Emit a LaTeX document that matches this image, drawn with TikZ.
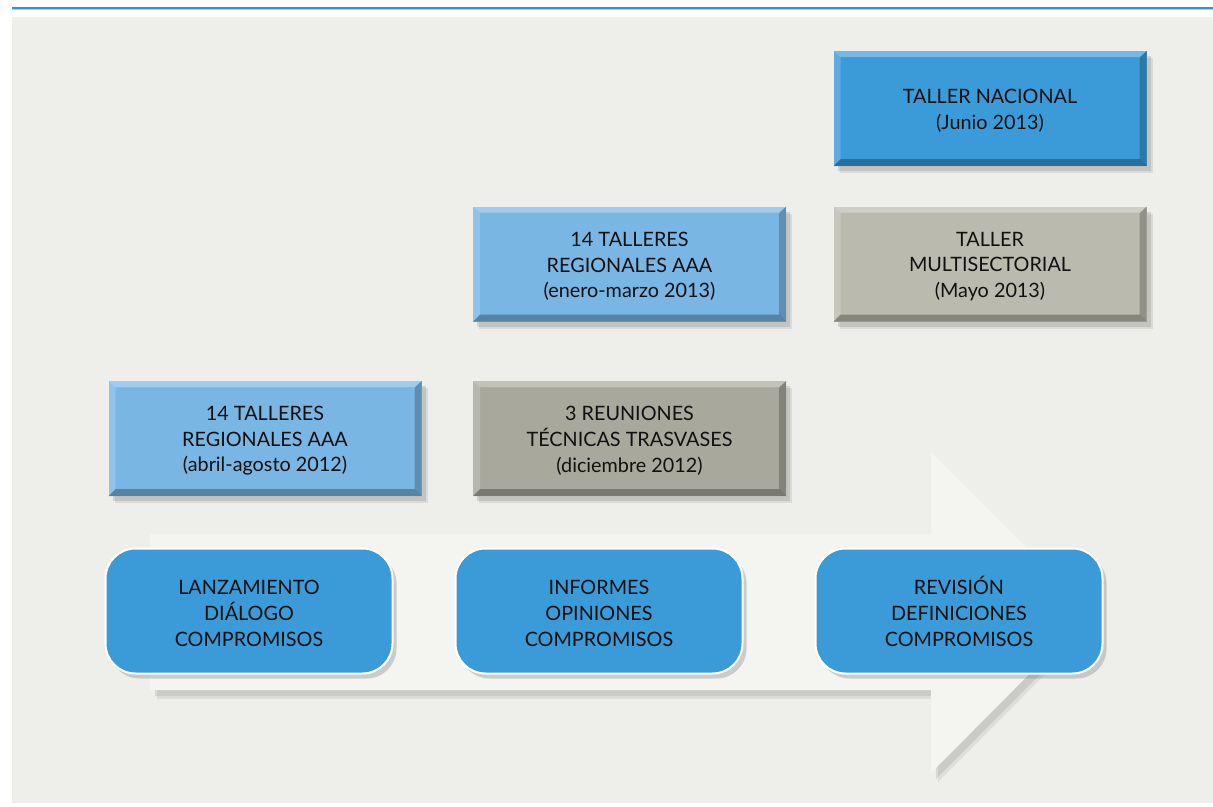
\documentclass[tikz,border=0pt]{standalone}
\usepackage{fontspec}
\setmainfont{Lato}
\usetikzlibrary{shadows,shapes.misc}
\definecolor{panel}{HTML}{EEEEEA}
\definecolor{arrowc}{HTML}{F4F4F0}
\definecolor{topline}{HTML}{2F95D8}
\definecolor{toplight}{HTML}{A9D3F0}
\definecolor{bluebox}{HTML}{3B9AD8}
\definecolor{lightblue}{HTML}{79B6E3}
\definecolor{graylight}{HTML}{BABAAE}
\definecolor{graydark}{HTML}{A8A89C}
\definecolor{txt}{HTML}{111111}
\newcommand{\firststrut}{\rule{0pt}{19pt}}
\tikzset{
  bevelbox/.style={rectangle, minimum width=313, minimum height=115, inner sep=0pt,
    align=center, text=txt, font=\fontsize{19.8}{25.8}\selectfont,
    drop shadow={shadow xshift=6pt, shadow yshift=-7pt, opacity=0.18},
    drop shadow={shadow xshift=4pt, shadow yshift=-5pt, opacity=0.25},
    path picture={
      \fill[black,opacity=0.28] (path picture bounding box.south west) -- (path picture bounding box.south east)
        -- ([shift={(-7pt,7pt)}]path picture bounding box.south east) -- ([shift={(7pt,7pt)}]path picture bounding box.south west) -- cycle;
      \fill[black,opacity=0.22] (path picture bounding box.south east) -- (path picture bounding box.north east)
        -- ([shift={(-7pt,-7pt)}]path picture bounding box.north east) -- ([shift={(-7pt,7pt)}]path picture bounding box.south east) -- cycle;
      \fill[white,opacity=0.3] (path picture bounding box.north west) -- (path picture bounding box.north east)
        -- ([shift={(-7pt,-6pt)}]path picture bounding box.north east) -- ([shift={(7pt,-6pt)}]path picture bounding box.north west) -- cycle;
      \fill[white,opacity=0.18] (path picture bounding box.north west) -- (path picture bounding box.south west)
        -- ([shift={(7pt,7pt)}]path picture bounding box.south west) -- ([shift={(7pt,-6pt)}]path picture bounding box.north west) -- cycle;
    }},
  roundbox/.style={rectangle, rounded corners=30pt, minimum width=287, minimum height=125, inner sep=0pt,
    align=center, text=txt, fill=bluebox, draw=white, line width=2pt,
    font=\fontsize{19.8}{25.8}\selectfont,
    drop shadow={shadow xshift=4pt, shadow yshift=-5pt, opacity=0.35}},
}
\begin{document}
\begin{tikzpicture}[x=1pt,y=-1pt]
\useasboundingbox (0,0) rectangle (1213,806);
\fill[white] (0,0) rectangle (1213,806);
\fill[panel] (12,17) rectangle (1213,803);
\draw[topline, line width=1.6pt] (12,8) -- (1213,8);
\draw[toplight, line width=1pt] (12,9.8) -- (1213,9.8);
% arrow
\fill[arrowc, drop shadow={shadow xshift=7pt, shadow yshift=-9pt, opacity=0.15},
  drop shadow={shadow xshift=5pt, shadow yshift=-6pt, opacity=0.2}]
  (150,534) -- (931,534) -- (931,452) -- (1091,612) -- (931,773) -- (931,690) -- (150,690) -- cycle;
% top boxes
\node[bevelbox, fill=bluebox] (nac) at (990,108.5) {\firststrut TALLER NACIONAL\\(Junio 2013)};
\node[bevelbox, fill=graylight] (multi) at (990,264) {\firststrut TALLER\\MULTISECTORIAL\\(Mayo 2013)};
\node[bevelbox, fill=lightblue] (reg13) at (629.5,264) {\firststrut 14 TALLERES\\REGIONALES AAA\\(enero-marzo 2013)};
\node[bevelbox, fill=lightblue] (reg12) at (265,438.5) {\firststrut 14 TALLERES\\REGIONALES AAA\\(abril-agosto 2012)};
\node[bevelbox, fill=graydark] (reun) at (629.5,438.5) {\firststrut 3 REUNIONES\\TÉCNICAS TRASVASES\\(diciembre 2012)};
% bottom rounded boxes
\node[roundbox] (lanz) at (249,611) {\firststrut LANZAMIENTO\\DIÁLOGO\\COMPROMISOS};
\node[roundbox] (inf) at (599,611) {\firststrut INFORMES\\OPINIONES\\COMPROMISOS};
\node[roundbox] (rev) at (959,611) {\firststrut REVISIÓN\\DEFINICIONES\\COMPROMISOS};
\end{tikzpicture}
\end{document}
